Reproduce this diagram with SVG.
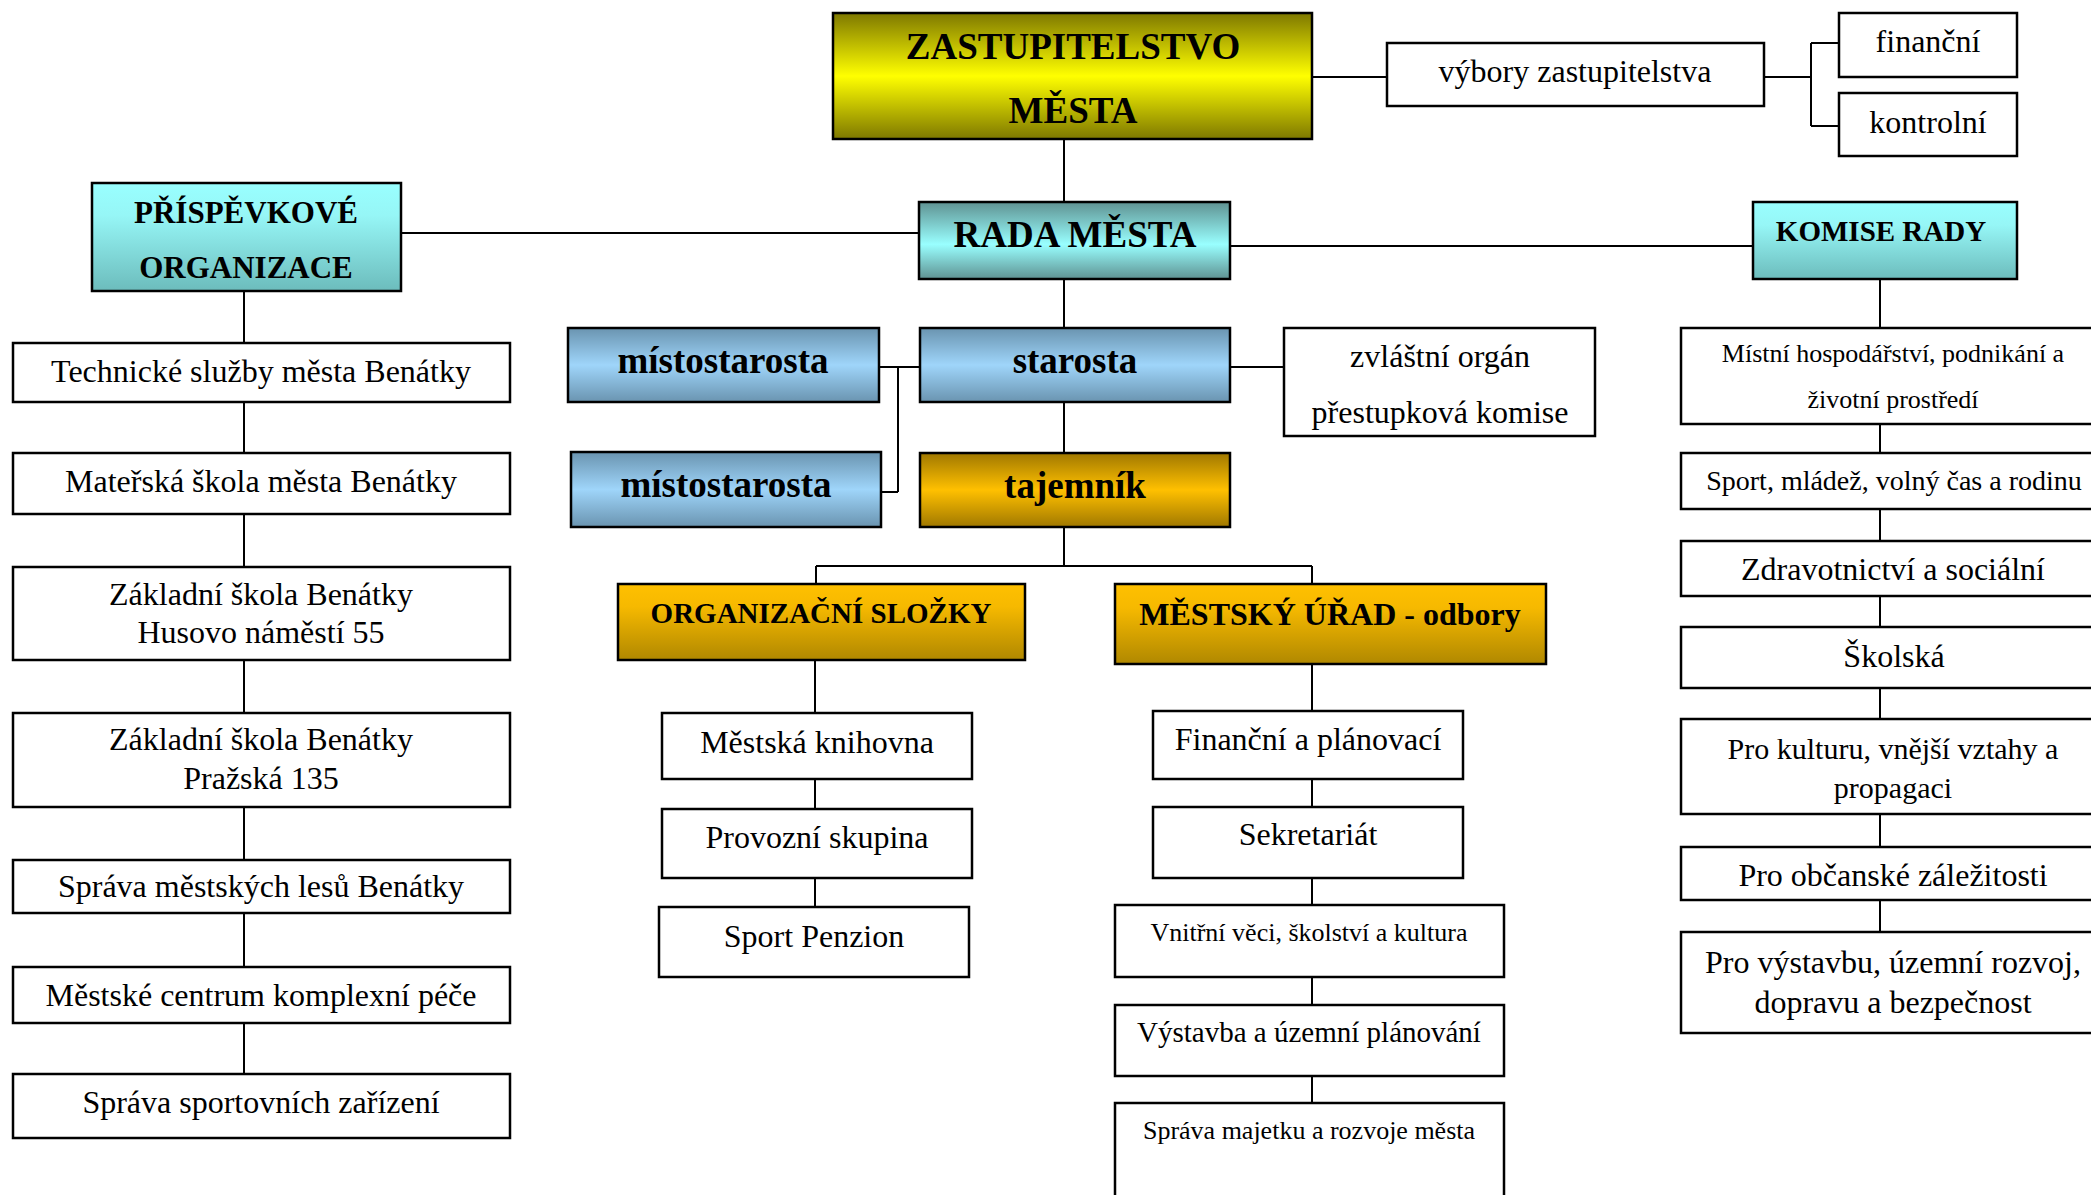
<svg xmlns="http://www.w3.org/2000/svg" width="2091" height="1195" viewBox="0 0 2091 1195">
<defs>
<linearGradient id="gYellow" x1="0" y1="0" x2="0" y2="1">
<stop offset="0" stop-color="#7e7800"/><stop offset="0.5" stop-color="#ffff00"/><stop offset="1" stop-color="#7e7800"/>
</linearGradient>
<linearGradient id="gTeal" x1="0" y1="0" x2="0" y2="1">
<stop offset="0" stop-color="#5f9292"/><stop offset="0.55" stop-color="#99ffff"/><stop offset="1" stop-color="#5f9292"/>
</linearGradient>
<linearGradient id="gTealDown" x1="0" y1="0" x2="0" y2="1">
<stop offset="0" stop-color="#99ffff"/><stop offset="0.3" stop-color="#96f6f6"/><stop offset="1" stop-color="#6cbcbc"/>
</linearGradient>
<linearGradient id="gBlue" x1="0" y1="0" x2="0" y2="1">
<stop offset="0" stop-color="#6a94b0"/><stop offset="0.5" stop-color="#9fd5fa"/><stop offset="1" stop-color="#6a94b0"/>
</linearGradient>
<linearGradient id="gGold" x1="0" y1="0" x2="0" y2="1">
<stop offset="0" stop-color="#a07800"/><stop offset="0.5" stop-color="#ffc000"/><stop offset="1" stop-color="#a07800"/>
</linearGradient>
<linearGradient id="gGoldDown" x1="0" y1="0" x2="0" y2="1">
<stop offset="0" stop-color="#ffc000"/><stop offset="0.3" stop-color="#f6b900"/><stop offset="1" stop-color="#b08800"/>
</linearGradient>
</defs>
<style>
rect{stroke:#000;stroke-width:2.5}
.w{fill:#fff}
.c{stroke:#000;stroke-width:2;fill:none}
text{font-family:"Liberation Serif","Times New Roman",serif;fill:#000;text-anchor:middle}
.b{font-weight:bold}
.f37{font-size:37px}
.f32{font-size:32px}
.f31{font-size:31px}
.f30{font-size:30px}
.f29{font-size:29px}
.f28{font-size:28px}
.f26{font-size:26px}
</style>
<rect width="2091" height="1195" fill="#fff" style="stroke:none"/>

<g id="connectors">
<path class="c" d="M1064 139V202M1064 279V328M1064 402V453M1064 527V566M816 566H1312M816 566V584M1312 566V584"/>
<path class="c" d="M1312 77H1387M1764 77H1811M1811 43V126M1811 43H1839M1811 126H1839"/>
<path class="c" d="M401 233H919M1230 246H1753"/>
<path class="c" d="M879 367H920M898 367V492M881 492H898M1230 367H1284"/>
<path class="c" d="M244 291V343M244 402V453M244 514V567M244 660V713M244 807V860M244 913V967M244 1023V1074"/>
<path class="c" d="M815 660V713M815 779V809M815 878V907"/>
<path class="c" d="M1312 664V711M1312 779V807M1312 878V905M1312 977V1005M1312 1076V1103"/>
<path class="c" d="M1880 279V328M1880 424V453M1880 509V541M1880 596V627M1880 688V719M1880 814V847M1880 900V932"/>
</g>

<g id="zastupitelstvo"><rect x="833" y="13" width="479" height="126" fill="url(#gYellow)"/>
<text class="b f37" x="1073" y="59">ZASTUPITELSTVO</text><text class="b f37" x="1073" y="123">MĚSTA</text></g>
<g id="vybory"><rect class="w" x="1387" y="43" width="377" height="63"/><text class="f32" x="1575" y="82">výbory zastupitelstva</text></g>
<g id="financni"><rect class="w" x="1839" y="13" width="178" height="64"/><text class="f32" x="1928" y="52">finanční</text></g>
<g id="kontrolni"><rect class="w" x="1839" y="93" width="178" height="63"/><text class="f32" x="1928" y="133">kontrolní</text></g>

<g id="rada"><rect x="919" y="202" width="311" height="77" fill="url(#gTeal)"/><text class="b f37" x="1075" y="247">RADA MĚSTA</text></g>
<g id="prispevkove"><rect x="92" y="183" width="309" height="108" fill="url(#gTealDown)"/>
<text class="b f31" x="246" y="223">PŘÍSPĚVKOVÉ</text><text class="b f31" x="246" y="278">ORGANIZACE</text></g>
<g id="komise"><rect x="1753" y="202" width="264" height="77" fill="url(#gTealDown)"/><text class="b f29" x="1881" y="241">KOMISE RADY</text></g>

<g id="mistostarosta1"><rect x="568" y="328" width="311" height="74" fill="url(#gBlue)"/><text class="b f37" x="723" y="373">místostarosta</text></g>
<g id="starosta"><rect x="920" y="328" width="310" height="74" fill="url(#gBlue)"/><text class="b f37" x="1075" y="373">starosta</text></g>
<g id="mistostarosta2"><rect x="571" y="452" width="310" height="75" fill="url(#gBlue)"/><text class="b f37" x="726" y="497">místostarosta</text></g>
<g id="tajemnik"><rect x="920" y="453" width="310" height="74" fill="url(#gGold)"/><text class="b f37" x="1075" y="498">tajemník</text></g>
<g id="zvlastni"><rect class="w" x="1284" y="328" width="311" height="108"/>
<text class="f32" x="1440" y="367">zvláštní orgán</text><text class="f32" x="1440" y="423">přestupková komise</text></g>

<g id="organizacni"><rect x="618" y="584" width="407" height="76" fill="url(#gGoldDown)"/><text class="b f29" x="821" y="623">ORGANIZAČNÍ SLOŽKY</text></g>
<g id="urad"><rect x="1115" y="584" width="431" height="80" fill="url(#gGoldDown)"/><text class="b f32" x="1330" y="625">MĚSTSKÝ ÚŘAD - odbory</text></g>

<g id="p1"><rect class="w" x="13" y="343" width="497" height="59"/><text class="f32" x="261" y="382">Technické služby města Benátky</text></g>
<g id="p2"><rect class="w" x="13" y="453" width="497" height="61"/><text class="f32" x="261" y="492">Mateřská škola města Benátky</text></g>
<g id="p3"><rect class="w" x="13" y="567" width="497" height="93"/><text class="f32" x="261" y="605">Základní škola Benátky</text><text class="f32" x="261" y="643">Husovo náměstí 55</text></g>
<g id="p4"><rect class="w" x="13" y="713" width="497" height="94"/><text class="f32" x="261" y="750">Základní škola Benátky</text><text class="f32" x="261" y="789">Pražská 135</text></g>
<g id="p5"><rect class="w" x="13" y="860" width="497" height="53"/><text class="f32" x="261" y="897">Správa městských lesů Benátky</text></g>
<g id="p6"><rect class="w" x="13" y="967" width="497" height="56"/><text class="f32" x="261" y="1006">Městské centrum komplexní péče</text></g>
<g id="p7"><rect class="w" x="13" y="1074" width="497" height="64"/><text class="f32" x="261" y="1113">Správa sportovních zařízení</text></g>

<g id="o1"><rect class="w" x="662" y="713" width="310" height="66"/><text class="f32" x="817" y="753">Městská knihovna</text></g>
<g id="o2"><rect class="w" x="662" y="809" width="310" height="69"/><text class="f32" x="817" y="848">Provozní skupina</text></g>
<g id="o3"><rect class="w" x="659" y="907" width="310" height="70"/><text class="f32" x="814" y="947">Sport Penzion</text></g>

<g id="u1"><rect class="w" x="1153" y="711" width="310" height="68"/><text class="f32" x="1308" y="750">Finanční a plánovací</text></g>
<g id="u2"><rect class="w" x="1153" y="807" width="310" height="71"/><text class="f32" x="1308" y="845">Sekretariát</text></g>
<g id="u3"><rect class="w" x="1115" y="905" width="389" height="72"/><text class="f26" x="1309" y="941">Vnitřní věci, školství a kultura</text></g>
<g id="u4"><rect class="w" x="1115" y="1005" width="389" height="71"/><text class="f29" x="1309" y="1042">Výstavba a územní plánování</text></g>
<g id="u5"><rect class="w" x="1115" y="1103" width="389" height="110"/><text class="f26" x="1309" y="1139">Správa majetku a rozvoje města</text></g>

<g id="k1"><rect class="w" x="1681" y="328" width="424" height="96"/><text class="f26" x="1893" y="362">Místní hospodářství, podnikání a</text><text class="f26" x="1893" y="408">životní prostředí</text></g>
<g id="k2"><rect class="w" x="1681" y="453" width="424" height="56"/><text class="f28" x="1894" y="490">Sport, mládež, volný čas a rodinu</text></g>
<g id="k3"><rect class="w" x="1681" y="541" width="424" height="55"/><text class="f32" x="1893" y="580">Zdravotnictví a sociální</text></g>
<g id="k4"><rect class="w" x="1681" y="627" width="424" height="61"/><text class="f32" x="1894" y="667">Školská</text></g>
<g id="k5"><rect class="w" x="1681" y="719" width="424" height="95"/><text class="f30" x="1893" y="759">Pro kulturu, vnější vztahy a</text><text class="f30" x="1893" y="798">propagaci</text></g>
<g id="k6"><rect class="w" x="1681" y="847" width="424" height="53"/><text class="f32" x="1893" y="886">Pro občanské záležitosti</text></g>
<g id="k7"><rect class="w" x="1681" y="932" width="424" height="101"/><text class="f32" x="1893" y="973">Pro výstavbu, územní rozvoj,</text><text class="f32" x="1893" y="1013">dopravu a bezpečnost</text></g>
</svg>
